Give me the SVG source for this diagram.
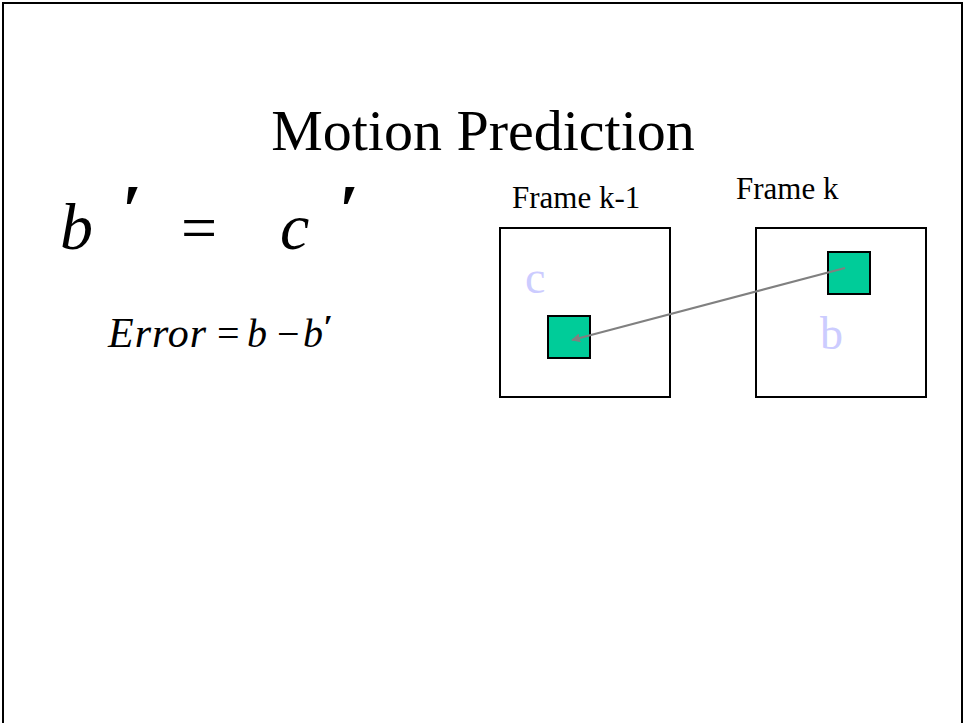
<svg xmlns="http://www.w3.org/2000/svg" width="964" height="723" viewBox="0 0 964 723">
<style>
.serif{font-family:"Liberation Serif","Times New Roman",serif;}
.it{font-style:italic;}
.prime{font-family:"Liberation Serif","Times New Roman",serif;font-style:italic;font-weight:bold;}
.frame{fill:#fff;stroke:#000;stroke-width:2;}
.block{fill:#00CC99;stroke:#000;stroke-width:2;}
.faint{fill:#CCCCFF;}
</style>
<defs>
<marker id="ah" viewBox="0 0 10 10" refX="9" refY="5" markerWidth="9" markerHeight="9" markerUnits="userSpaceOnUse" orient="auto">
<path d="M0,0 L10,5 L0,10 Z" fill="#808080"/>
</marker>
</defs>
<rect x="0" y="0" width="964" height="723" fill="#fff"/>
<path d="M3,730 V3 H962 V730" fill="none" stroke="#000" stroke-width="2"/>
<text class="serif" x="483" y="150" font-size="58" text-anchor="middle">Motion Prediction</text>
<g id="equation1">
<text class="serif it" x="60" y="249" font-size="66">b</text>
<text class="prime" x="121" y="234" font-size="72">′</text>
<text class="serif" x="181" y="249" font-size="64">=</text>
<text class="serif it" x="280" y="249" font-size="66">c</text>
<text class="prime" x="338" y="234" font-size="72">′</text>
</g>
<g id="equation2">
<text class="serif it" x="108" y="347" font-size="42" letter-spacing="1">Error</text>
<text class="serif" x="217" y="347" font-size="40">=</text>
<text class="serif it" x="247" y="347" font-size="40">b</text>
<text class="serif" x="277" y="347" font-size="40">−</text>
<text class="serif it" x="303" y="347" font-size="40">b</text>
<text class="prime" x="323" y="338" font-size="34">′</text>
</g>
<g id="frame-k-1">
<text class="serif" x="512" y="208" font-size="31">Frame k-1</text>
<rect class="frame" x="500" y="228" width="170" height="169"/>
<text class="serif faint" x="525" y="293" font-size="46">c</text>
<rect class="block" x="548" y="316" width="42" height="42"/>
</g>
<g id="frame-k">
<text class="serif" x="736" y="199" font-size="31">Frame k</text>
<rect class="frame" x="756" y="228" width="170" height="169"/>
<text class="serif faint" x="820" y="349" font-size="46">b</text>
<rect class="block" x="828" y="252" width="42" height="42"/>
</g>
<g id="connectors">
<line x1="845" y1="268" x2="572" y2="340" stroke="#808080" stroke-width="2" marker-end="url(#ah)"/>
</g>
</svg>
